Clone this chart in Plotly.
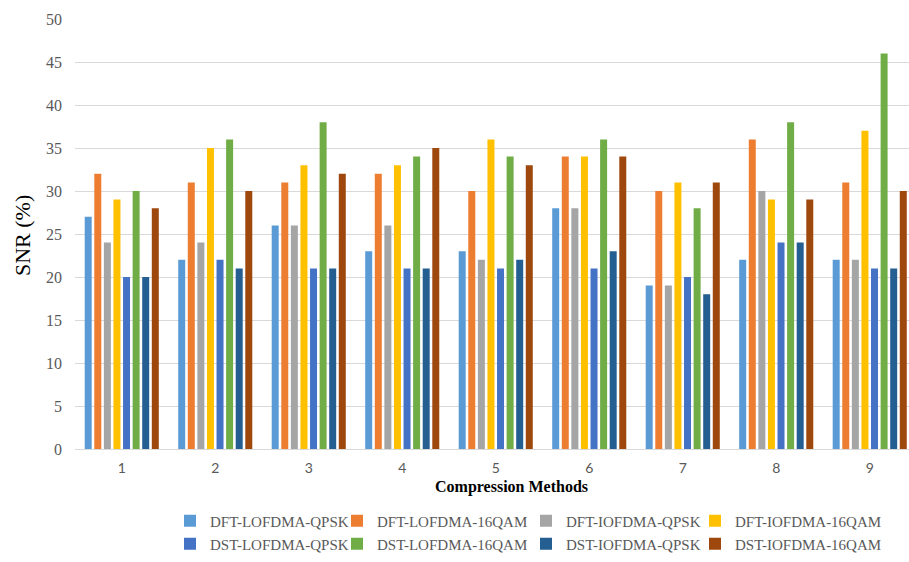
import plotly.graph_objects as go

categories = ["1", "2", "3", "4", "5", "6", "7", "8", "9"]

series_names = [
    "DFT-LOFDMA-QPSK", "DFT-LOFDMA-16QAM", "DFT-IOFDMA-QPSK", "DFT-IOFDMA-16QAM",
    "DST-LOFDMA-QPSK", "DST-LOFDMA-16QAM", "DST-IOFDMA-QPSK", "DST-IOFDMA-16QAM",
]

dft_lofdma_qpsk = [27, 22, 26, 23, 23, 28, 19, 22, 22]
dft_lofdma_16qam = [32, 31, 31, 32, 30, 34, 30, 36, 31]
dft_iofdma_qpsk = [24, 24, 26, 26, 22, 28, 19, 30, 22]
dft_iofdma_16qam = [29, 35, 33, 33, 36, 34, 31, 29, 37]
dst_lofdma_qpsk = [20, 22, 21, 21, 21, 21, 20, 24, 21]
dst_lofdma_16qam = [30, 36, 38, 34, 34, 36, 28, 38, 46]
dst_iofdma_qpsk = [20, 21, 21, 21, 22, 23, 18, 24, 21]
dst_iofdma_16qam = [28, 30, 32, 35, 33, 34, 31, 29, 30]

series_values = [
    dft_lofdma_qpsk, dft_lofdma_16qam, dft_iofdma_qpsk, dft_iofdma_16qam,
    dst_lofdma_qpsk, dst_lofdma_16qam, dst_iofdma_qpsk, dst_iofdma_16qam,
]

colors = ["#5B9BD5", "#ED7D31", "#A5A5A5", "#FFC000",
          "#4472C4", "#70AD47", "#255E91", "#9E480E"]

y_ticks = list(range(0, 51, 5))

SERIF = "Liberation Serif, Times New Roman, serif"
SANS = "Lato, Noto Sans, sans-serif"
TEXT_GRAY = "#595959"

W, H = 909, 562
M_L, M_R, M_T, M_B = 75, 0, 19, 113
PLOT_W = W - M_L - M_R
PLOT_H = H - M_T - M_B


def px_to_paper_x(px):
    return (px - M_L) / PLOT_W


def px_to_paper_y(py):
    return (H - M_B - py) / PLOT_H


# one legend per entry: 4 columns x 2 rows below the axis title
legend_cols_px = [170, 337, 526, 695]
legend_rows_px = [521, 544]

fig = go.Figure()
legend_layouts = {}
for i, (name, vals, col) in enumerate(zip(series_names, series_values, colors)):
    key = "legend" if i == 0 else f"legend{i + 1}"
    fig.add_trace(go.Bar(
        x=categories, y=vals, name=name,
        marker=dict(color=col, line=dict(width=0)),
        legend=key,
    ))
    legend_layouts[key] = dict(
        orientation="h",
        xanchor="left", yanchor="middle",
        x=px_to_paper_x(legend_cols_px[i % 4]),
        y=px_to_paper_y(legend_rows_px[i // 4]),
        font=dict(family=SERIF, size=15, color=TEXT_GRAY),
        bgcolor="rgba(0,0,0,0)",
        itemclick=False, itemdoubleclick=False,
    )

fig.update_layout(
    width=W, height=H,
    margin=dict(l=M_L, r=M_R, t=M_T, b=M_B, autoexpand=False),
    paper_bgcolor="white", plot_bgcolor="white",
    barmode="group", bargap=0.18, bargroupgap=0.27,
    showlegend=True,
    xaxis=dict(
        type="category",
        range=[-0.5, 8.42],
        showgrid=False,
        showline=True, linecolor="#D9D9D9", linewidth=1,
        ticks="",
        ticklabelstandoff=6,
        tickfont=dict(family=SANS, size=14, color=TEXT_GRAY),
        fixedrange=True,
    ),
    yaxis=dict(
        range=[0, 50],
        tickvals=y_ticks,
        showgrid=True, gridcolor="#D9D9D9", gridwidth=1,
        zeroline=False, showline=False, ticks="",
        ticklabelstandoff=12,
        tickfont=dict(family=SERIF, size=16, color=TEXT_GRAY),
        fixedrange=True,
    ),
    annotations=[
        dict(text="<b>Compression Methods</b>", xref="paper", yref="paper",
             x=px_to_paper_x(512), y=px_to_paper_y(487), showarrow=False,
             xanchor="center", yanchor="middle",
             font=dict(family=SERIF, size=16, color="#000000")),
        dict(text="SNR (%)", xref="paper", yref="paper",
             x=px_to_paper_x(22), y=px_to_paper_y(236), showarrow=False,
             textangle=-90, xanchor="center", yanchor="middle",
             font=dict(family=SERIF, size=22, color="#000000")),
    ],
    **legend_layouts,
)

fig.write_html("out.html", config={"displayModeBar": False})
